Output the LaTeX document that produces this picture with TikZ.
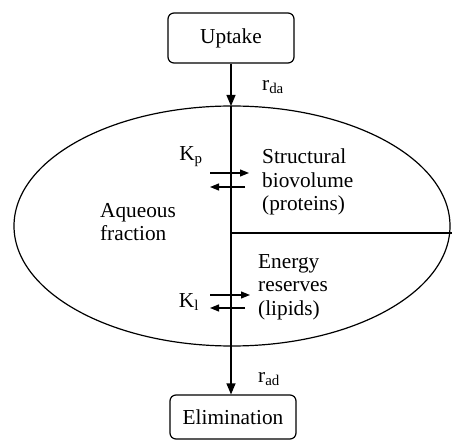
\documentclass[tikz,border=0pt]{standalone}
\usepackage{fontspec}
\setmainfont{Liberation Serif}
\usetikzlibrary{shapes.geometric,arrows.meta,positioning}

\begin{document}
\begin{tikzpicture}[x=1pt,y=-1pt,font=\fontsize{21.3}{23.5}\selectfont,
  box/.style={draw,rounded corners=6pt,minimum width=126pt,minimum height=50pt,
              line width=1.2pt,inner sep=0pt},
  lbl/.style={align=left,inner sep=0pt},
  flow/.style={-{Triangle[length=11pt,width=9pt]},line width=1.2pt},
  xch/.style={-{Triangle[length=9pt,width=7pt]},line width=1.2pt}]
\useasboundingbox (0,0) rectangle (452,443);
\node[box] (up) at (231,38) {Uptake};
\node[box,minimum height=44pt] (out) at (233,417) {Elimination};
\node[draw,ellipse,line width=1.2pt,minimum width=436pt,minimum height=240pt,
      inner sep=0pt,outer sep=0pt] (cell) at (232,226) {};
\coordinate (top) at (up.south |- cell.north);
\coordinate (split) at (231,233);
\coordinate (rim) at (452,233);
\draw[flow] (up.south) -- (top);
\draw[flow] (top) -- (top |- out.north);
\draw[line width=1.2pt] (split) -- (rim);
\node[lbl] (rda) at (273,87) {r\textsubscript{da}};
\node[lbl] (rad) at (269,379) {r\textsubscript{ad}};
\node[lbl] (aq) at (138,222) {Aqueous\\fraction};
\node[lbl,anchor=west] (prot) at (262,182) {Structural\\biovolume\\(proteins)};
\node[lbl,anchor=west] (lip) at (258,287) {Energy\\reserves\\(lipids)};
\node[lbl] (kp) at (191,157) {K\textsubscript{p}};
\node[lbl] (kl) at (189,302) {K\textsubscript{l}};
% exchange with the compartments
\draw[xch] (210,173) -- (249,173);
\draw[xch] (245,187) -- (210,187);
\draw[xch] (210,295) -- (250,295);
\draw[xch] (245,308) -- (210,308);
\end{tikzpicture}
\end{document}
